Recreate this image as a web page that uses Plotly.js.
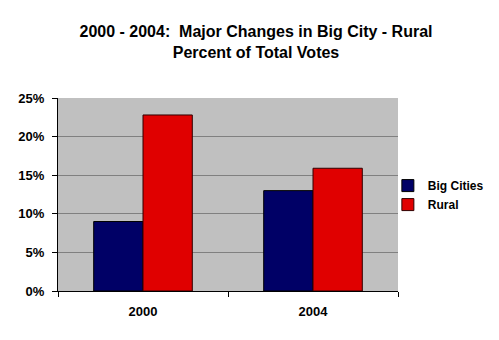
<!DOCTYPE html>
<html><head><meta charset="utf-8">
<script src="https://cdn.plot.ly/plotly-3.0.1.min.js"></script>
<style>body{margin:0;background:#fff}#c{width:499px;height:340px}</style>
</head><body><div id="c"></div>
<script>
var years = ["2000", "2004"];
var bigCities = [9, 13];
var rural = [22.8, 15.9];
var yTicks = [0, 5, 10, 15, 20, 25];
var yTickText = ["0%", "5%", "10%", "15%", "20%", "25%"];
var gridTicks = [5, 10, 15, 20];

var F = "Liberation Sans, Arial, sans-serif";
var data = [
  {type: "bar", name: "Big Cities", x: years, y: bigCities,
   marker: {color: "#000066", line: {color: "#000000", width: 1}}},
  {type: "bar", name: "Rural", x: years, y: rural,
   marker: {color: "#E00000", line: {color: "#300000", width: 1}}},
  {type: "scatter", x: years, y: [0, 0], yaxis: "y2", mode: "none",
   showlegend: false, hoverinfo: "skip"}
];
var layout = {
  width: 499, height: 340,
  margin: {l: 58, r: 0, t: 98, b: 49},
  paper_bgcolor: "#ffffff", plot_bgcolor: "#C0C0C0",
  font: {family: F, color: "#000000"},
  title: {text: "<b>2000 - 2004:  Major Changes in Big City - Rural<br>Percent of Total Votes</b>",
          font: {family: F, size: 16, color: "#000"}, xref: "container", x: 0.513, xanchor: "center",
          yref: "container", y: 0.89, yanchor: "top"},
  barmode: "group", bargap: 0.42, bargroupgap: 0,
  xaxis: {type: "category", domain: [0, 0.771], showline: true, linecolor: "#000", linewidth: 1,
          ticks: "outside", tickson: "boundaries", ticklen: 5, tickcolor: "#000",
          ticklabelstandoff: 8,
          showgrid: false, tickfont: {family: F, size: 13, color: "#000", weight: "bold"}},
  yaxis: {range: [0, 25], tickvals: yTicks, ticktext: yTickText, showgrid: false,
          showline: true, linecolor: "#000", linewidth: 1, ticks: "outside", ticklen: 5,
          tickcolor: "#000", zeroline: false, ticklabelstandoff: 5,
          tickfont: {family: F, size: 13, color: "#000", weight: "bold"}},
  yaxis2: {overlaying: "y", range: [0, 25], tickvals: gridTicks, showticklabels: false,
           showgrid: true, gridcolor: "#808080", gridwidth: 1, zeroline: false, showline: false},
  legend: {x: 0.748, xanchor: "left", y: 0.497, yanchor: "middle",
           font: {family: F, size: 12, color: "#000", weight: "bold"},
           itemwidth: 30, tracegroupgap: 2, bgcolor: "rgba(0,0,0,0)"},
  showlegend: true
};
Plotly.newPlot("c", data, layout, {displayModeBar: false, staticPlot: true});
</script></body></html>
